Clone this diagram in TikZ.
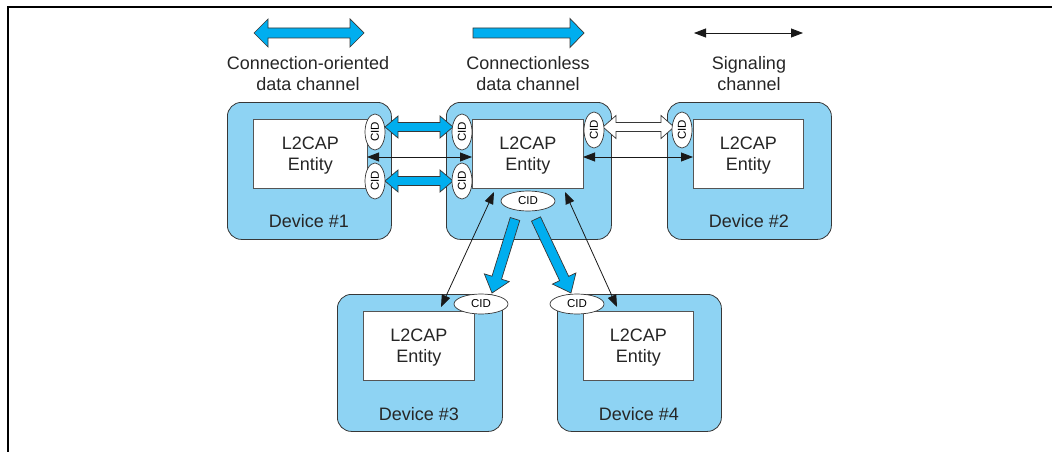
\documentclass[tikz,border=0pt]{standalone}
\usepackage{fontspec}
\setmainfont{Liberation Sans}
\usetikzlibrary{arrows.meta,shapes.geometric,calc}
\definecolor{devblue}{RGB}{142,211,243}
\definecolor{arrblue}{RGB}{0,174,239}
\definecolor{edge}{RGB}{55,55,55}
\makeatletter
\newcommand\arrowgeom[2]{%
  \pgfpointdiff{\pgfpointanchor{#1}{center}}{\pgfpointanchor{#2}{center}}%
  \edef\ba@dx{\the\pgf@x}\edef\ba@dy{\the\pgf@y}%
  \pgfmathsetmacro\ba@len{veclen(\ba@dx,\ba@dy)}%
  \pgfmathsetmacro\ba@ang{atan2(\ba@dy,\ba@dx)}}
% #1 style, #2 from, #3 to, #4 shaft half width, #5 head half width, #6 head length
\newcommand\singleblock[6]{%
  \arrowgeom{#2}{#3}%
  \begin{scope}[shift={(#2)},rotate=\ba@ang,x=1pt,y=1pt]
    \draw[#1] (0,-#4) -- ({\ba@len-#6},-#4) -- ({\ba@len-#6},-#5) -- (\ba@len,0)
      -- ({\ba@len-#6},#5) -- ({\ba@len-#6},#4) -- (0,#4) -- cycle;
  \end{scope}}
\newcommand\doubleblock[6]{%
  \arrowgeom{#2}{#3}%
  \begin{scope}[shift={(#2)},rotate=\ba@ang,x=1pt,y=1pt]
    \draw[#1] (0,0) -- (#6,#5) -- (#6,#4) -- ({\ba@len-#6},#4) -- ({\ba@len-#6},#5)
      -- (\ba@len,0) -- ({\ba@len-#6},-#5) -- ({\ba@len-#6},-#4) -- (#6,-#4)
      -- (#6,-#5) -- cycle;
  \end{scope}}
\makeatother
\tikzset{
  device/.style={draw=edge, fill=devblue, rounded corners=14pt, line width=0.8pt,
    inner sep=0pt, anchor=north west},
  entity/.style={draw=edge!85, fill=white, line width=0.7pt, inner sep=0pt,
    anchor=north west},
  lbl/.style={font=\fontsize{18}{21}\selectfont, text=black!85, align=center, inner sep=0pt},
  cid/.style={ellipse, draw=edge, fill=white, line width=0.7pt, inner sep=0pt,
    minimum width=36pt, minimum height=20pt, font=\fontsize{11.5}{12}\selectfont},
  cidh/.style={cid, minimum width=54pt, minimum height=20pt},
  sig/.style={draw=black!90, line width=0.8pt,
    {Triangle[length=12pt,width=9pt]}-{Triangle[length=12pt,width=9pt]}},
  blue arrow/.style={draw=edge, fill=arrblue, line width=0.7pt},
  white arrow/.style={draw=edge, fill=white, line width=0.7pt},
}
\begin{document}
\begin{tikzpicture}[x=1pt,y=-1pt]
\useasboundingbox (0,0) rectangle (1052,452);
% frame
\draw[line width=2.5pt] (8,452) -- (8,7) -- (1052,7);

% legend
\coordinate (lg1a) at (254,33); \coordinate (lg1b) at (364,33);
\coordinate (lg2a) at (473,33); \coordinate (lg2b) at (584,33);
\coordinate (lg3a) at (694,33); \coordinate (lg3b) at (803,33);
\doubleblock{blue arrow}{lg1a}{lg1b}{5}{14}{14}
\singleblock{blue arrow}{lg2a}{lg2b}{5}{14.5}{14}
\draw[sig] (lg3a) -- (lg3b);
\node[lbl] (lt1) at (308,73.5) {Connection-oriented\\data channel};
\node[lbl] (lt2) at (528,73.5) {Connectionless\\data channel};
\node[lbl] (lt3) at (749,73.5) {Signaling\\channel};

% devices
\node[device, minimum width=164pt, minimum height=137pt] (d1) at (227,102) {};
\node[device, minimum width=165pt, minimum height=137pt] (d0) at (446,102) {};
\node[device, minimum width=164pt, minimum height=137pt] (d2) at (667,102) {};
\node[device, minimum width=165pt, minimum height=137pt] (d3) at (337,294) {};
\node[device, minimum width=164pt, minimum height=137pt] (d4) at (557,294) {};

% entities
\node[entity, minimum width=114pt, minimum height=69pt] (e1) at (253,119) {};
\node[entity, minimum width=111pt, minimum height=69pt] (e0) at (472,119) {};
\node[entity, minimum width=110pt, minimum height=69pt] (e2) at (693,119) {};
\node[entity, minimum width=111pt, minimum height=69pt] (e3) at (363,311) {};
\node[entity, minimum width=110pt, minimum height=69pt] (e4) at (583,311) {};
\node[lbl, anchor=base] (et1) at ($(e1.center)+(0,16.5)$) {L2CAP\\Entity};
\node[lbl, anchor=base] (et0) at ($(e0.center)+(0,16.5)$) {L2CAP\\Entity};
\node[lbl, anchor=base] (et2) at ($(e2.center)+(0,16.5)$) {L2CAP\\Entity};
\node[lbl, anchor=base] (et3) at ($(e3.center)+(0,16.5)$) {L2CAP\\Entity};
\node[lbl, anchor=base] (et4) at ($(e4.center)+(0,16.5)$) {L2CAP\\Entity};

% device labels
\node[lbl, anchor=base] (l1) at (309,227) {Device \#1};
\node[lbl, anchor=base] (l2) at (749,227) {Device \#2};
\node[lbl, anchor=base] (l3) at (419,420) {Device \#3};
\node[lbl, anchor=base] (l4) at (639,420) {Device \#4};

% signaling channels
\coordinate (s1a) at (367,157); \coordinate (s1b) at (472,157);
\coordinate (s2a) at (583,157); \coordinate (s2b) at (693,157);
\coordinate (t1a) at (494,192); \coordinate (t1b) at (441,307);
\coordinate (t2a) at (565,192); \coordinate (t2b) at (617,307);
\draw[sig] (s1a) -- (s1b);
\draw[sig] (s2a) -- (s2b);
\draw[sig] (t1a) -- (t1b);
\draw[sig] (t2a) -- (t2b);

% data channels
\coordinate (b1a) at (385,127); \coordinate (b1b) at (453,127);
\coordinate (b2a) at (385,181); \coordinate (b2b) at (453,181);
\coordinate (b3a) at (603,127); \coordinate (b3b) at (674,127);
\coordinate (b4a) at (515,219); \coordinate (b4b) at (492,293);
\coordinate (b5a) at (536,219); \coordinate (b5b) at (571,293);
\doubleblock{blue arrow}{b1a}{b1b}{4.5}{11}{13}
\doubleblock{blue arrow}{b2a}{b2b}{4.5}{11}{13}
\doubleblock{white arrow}{b3a}{b3b}{4.5}{11.5}{13}
\singleblock{blue arrow}{b4a}{b4b}{5}{13}{16}
\singleblock{blue arrow}{b5a}{b5b}{5}{13}{16}

% CIDs
\node[cid, rotate=90] (c1a) at (375,132) {CID};
\node[cid, rotate=90] (c1b) at (375,181) {CID};
\node[cid, rotate=90] (c0a) at (462,132) {CID};
\node[cid, rotate=90] (c0b) at (462,181) {CID};
\node[cid, rotate=90] (c0c) at (594,130) {CID};
\node[cid, rotate=90] (c2) at (682,130) {CID};
\node[cidh] (c0d) at (528,201) {CID};
\node[cidh] (c3) at (481,304) {CID};
\node[cidh] (c4) at (577,304) {CID};
\end{tikzpicture}
\end{document}
